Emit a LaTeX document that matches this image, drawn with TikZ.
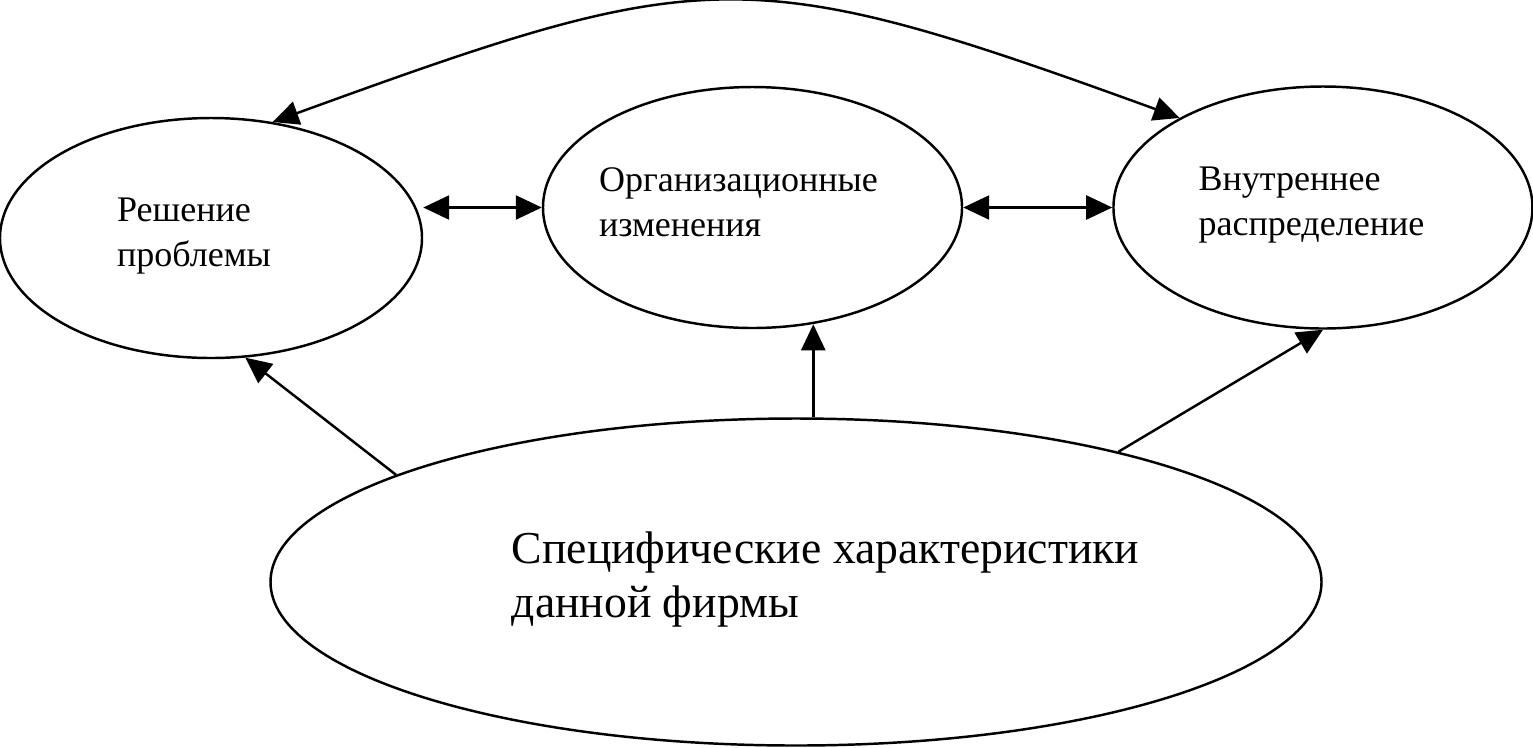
\documentclass[tikz,border=0pt]{standalone}
\usepackage{fontspec}
\setmainfont{Liberation Serif}
\usetikzlibrary{arrows.meta, positioning, shapes.geometric}

\begin{document}
\begin{tikzpicture}[
            oval/.style={
                ellipse,
                draw=black,
                line width=1.4pt,
                inner sep=0pt
            },
            lbl/.style={
                align=left,
                inner sep=0pt,
                font=\fontsize{20.5}{25.6}\selectfont
            },
            biglbl/.style={
                lbl,
                font=\fontsize{26}{30.7}\selectfont
            },
            line/.style={
                draw,
                -{Triangle[length=0.52cm, width=0.48cm]},
                line width=1.4pt
            },
            dline/.style={
                line,
                {Triangle[length=0.52cm, width=0.48cm]}-{Triangle[length=0.52cm, width=0.48cm]}
            }
        ]
            \useasboundingbox (0,0) rectangle (30.66,-14.94);

            % --- ELLIPSES ---
            \node [oval, minimum width=8.44cm, minimum height=4.8cm] (pr) at (4.22,-4.76) {};
            \node [oval, minimum width=8.38cm, minimum height=4.82cm] (org) at (15.05,-4.15) {};
            \node [oval, minimum width=8.38cm, minimum height=4.84cm, right=2.98cm of org] (vr) {};
            \node [oval, minimum width=21.02cm, minimum height=6.54cm] (sp) at (15.92,-11.64) {};

            % --- TEXTS ---
            \node [lbl, xshift=-0.34cm, yshift=0.04cm] (prt) at (pr) {Решение\\проблемы};
            \node [lbl, xshift=-0.28cm, yshift=0.1cm] (orgt) at (org) {Организационные\\изменения};
            \node [lbl, xshift=-0.23cm, yshift=0.04cm] (vrt) at (vr) {Внутреннее\\распределение};
            \node [biglbl, xshift=0.59cm, yshift=0.05cm] (spt) at (sp) {Специфические характеристики\\данной фирмы};

            % --- ARROWS ---
            \path [dline] (pr.62) to[out=20, in=160, looseness=1.3] (vr.148);
            \path [dline] (pr.east |- org.west) -- (org.west);
            \path [dline] (org.east) -- (vr.west);
            \path [line] (sp.165) -- (pr.-74);
            \path [line] (sp.84) -- (sp.84 |- org.-63);
            \path [line] (sp.22) -- (vr.south);
\end{tikzpicture}
\end{document}
